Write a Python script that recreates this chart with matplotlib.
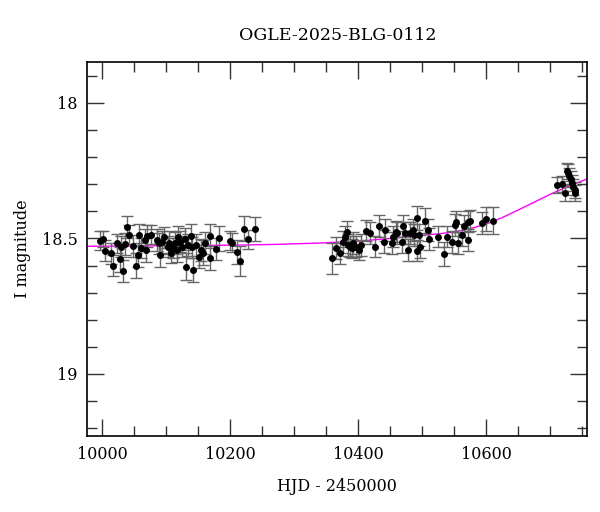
import matplotlib
matplotlib.use("Agg")
import matplotlib.pyplot as plt
from matplotlib.ticker import MultipleLocator

title = "OGLE-2025-BLG-0112"
xlabel = "HJD - 2450000"
ylabel = "I magnitude"

# Photometry: HJD-2450000, I mag, error
hjd = [9997, 10001, 10005, 10014, 10017, 10023, 10028, 10030, 10033, 10036,
       10039, 10041, 10048, 10053, 10056, 10058, 10061, 10066, 10069, 10070,
       10076, 10086, 10088, 10090, 10093, 10096, 10102, 10105, 10107, 10110,
       10113, 10116, 10118, 10121, 10125, 10129, 10131, 10134, 10138, 10140,
       10142, 10147, 10151, 10155, 10158, 10160, 10168, 10169, 10177, 10182,
       10199, 10202, 10210, 10215, 10222, 10228, 10239,
       10359, 10365, 10371, 10376, 10379, 10382, 10384, 10387, 10390, 10392,
       10397, 10401, 10405, 10412, 10418, 10426, 10432, 10440, 10441, 10452,
       10454, 10459, 10461, 10468, 10470, 10473, 10478, 10481, 10485, 10487,
       10491, 10492, 10495, 10497, 10505, 10509, 10511, 10525, 10534, 10539,
       10546, 10551, 10553, 10556, 10562, 10565, 10571, 10572, 10575, 10594,
       10600, 10611,
       10710, 10719, 10723, 10725.6, 10728, 10730, 10732, 10733.5, 10736,
       10738, 10739]
mag = [18.508, 18.503, 18.545, 18.555, 18.600, 18.518, 18.577, 18.530, 18.620, 18.520,
       18.459, 18.486, 18.528, 18.600, 18.561, 18.487, 18.536, 18.505, 18.542, 18.491,
       18.487, 18.505, 18.518, 18.561, 18.512, 18.496, 18.530, 18.515, 18.552, 18.536,
       18.518, 18.542, 18.493, 18.512, 18.530, 18.503, 18.604, 18.524, 18.491, 18.533,
       18.616, 18.524, 18.567, 18.542, 18.552, 18.518, 18.573, 18.491, 18.540, 18.500,
       18.508, 18.515, 18.551, 18.584, 18.464, 18.503, 18.466,
       18.573, 18.536, 18.555, 18.512, 18.493, 18.475, 18.524, 18.530, 18.536, 18.518,
       18.530, 18.542, 18.524, 18.471, 18.481, 18.530, 18.454, 18.512, 18.469, 18.518,
       18.493, 18.475, 18.481, 18.512, 18.454, 18.481, 18.542, 18.481, 18.469, 18.487,
       18.545, 18.425, 18.487, 18.530, 18.434, 18.469, 18.503, 18.493, 18.557, 18.493,
       18.512, 18.450, 18.438, 18.518, 18.487, 18.454, 18.505, 18.438, 18.434, 18.444,
       18.428, 18.434,
       18.303, 18.299, 18.331, 18.250, 18.257, 18.269, 18.282, 18.296, 18.309,
       18.331, 18.321]
err = [0.035, 0.030, 0.040, 0.040, 0.038, 0.035, 0.045, 0.040, 0.042, 0.040,
       0.040, 0.035, 0.040, 0.045, 0.045, 0.040, 0.038, 0.040, 0.045, 0.040,
       0.035, 0.040, 0.038, 0.045, 0.040, 0.040, 0.038, 0.042, 0.040, 0.038,
       0.040, 0.045, 0.040, 0.038, 0.040, 0.040, 0.050, 0.040, 0.045, 0.040,
       0.045, 0.040, 0.042, 0.040, 0.045, 0.040, 0.045, 0.045, 0.040, 0.045,
       0.035, 0.035, 0.045, 0.055, 0.045, 0.035, 0.045,
       0.058, 0.040, 0.040, 0.040, 0.040, 0.040, 0.040, 0.038, 0.035, 0.040,
       0.040, 0.038, 0.040, 0.038, 0.040, 0.040, 0.040, 0.042, 0.040, 0.040,
       0.040, 0.038, 0.040, 0.040, 0.042, 0.040, 0.040, 0.040, 0.040, 0.040,
       0.040, 0.045, 0.040, 0.042, 0.045, 0.040, 0.040, 0.040, 0.045, 0.040,
       0.040, 0.040, 0.040, 0.040, 0.040, 0.040, 0.040, 0.040, 0.040, 0.040,
       0.045, 0.050,
       0.031, 0.030, 0.030, 0.030, 0.030, 0.030, 0.030, 0.030, 0.030,
       0.030, 0.030]

# Model curve
model_hjd = [9977, 10100, 10200, 10270, 10340, 10400, 10450, 10500, 10525,
             10550, 10575, 10600, 10625, 10650, 10675, 10700, 10725, 10758]
model_mag = [18.529, 18.527, 18.525, 18.522, 18.517, 18.510, 18.500, 18.488, 18.483,
             18.476, 18.464, 18.447, 18.423, 18.395, 18.366, 18.337, 18.311, 18.280]

xlim = (9976.6, 10757.8)
ylim = (19.229, 17.849)

plt.rcParams['font.family'] = ['DejaVu Serif']
fig = plt.figure(figsize=(6.0, 5.12), dpi=100)
ax = fig.add_axes([0.1455, 0.1484, 0.8333, 0.7305])

ax.plot(model_hjd, model_mag, color='#ff00ff', lw=1.0, zorder=2)
eb = ax.errorbar(hjd, mag, yerr=err, fmt='o', color='black', ms=4.0,
                 ecolor='#666666', elinewidth=1.0, capsize=4.0, capthick=1.0,
                 zorder=3)
for cl in eb[1]:
    cl.set_color('black')

ax.set_xlim(*xlim)
ax.set_ylim(*ylim)
ax.xaxis.set_major_locator(MultipleLocator(200))
ax.xaxis.set_minor_locator(MultipleLocator(50))
ax.yaxis.set_major_locator(MultipleLocator(0.5))
ax.yaxis.set_minor_locator(MultipleLocator(0.1))
ax.yaxis.set_major_formatter(matplotlib.ticker.FuncFormatter(lambda v, p: f"{v:g}"))
ax.tick_params(which='both', direction='in', top=True, right=True,
               labelsize=11.5, color='#333333', width=1.0, pad=7)
ax.tick_params(which='major', length=12)
ax.tick_params(which='minor', length=7)
for s in ax.spines.values():
    s.set_linewidth(1.2)

ax.set_title(title, fontsize=12.5, pad=16)
ax.set_xlabel(xlabel, fontsize=11.5, labelpad=11)
ax.set_ylabel(ylabel, fontsize=11.5, labelpad=8)

fig.savefig("out.png", dpi=100)
